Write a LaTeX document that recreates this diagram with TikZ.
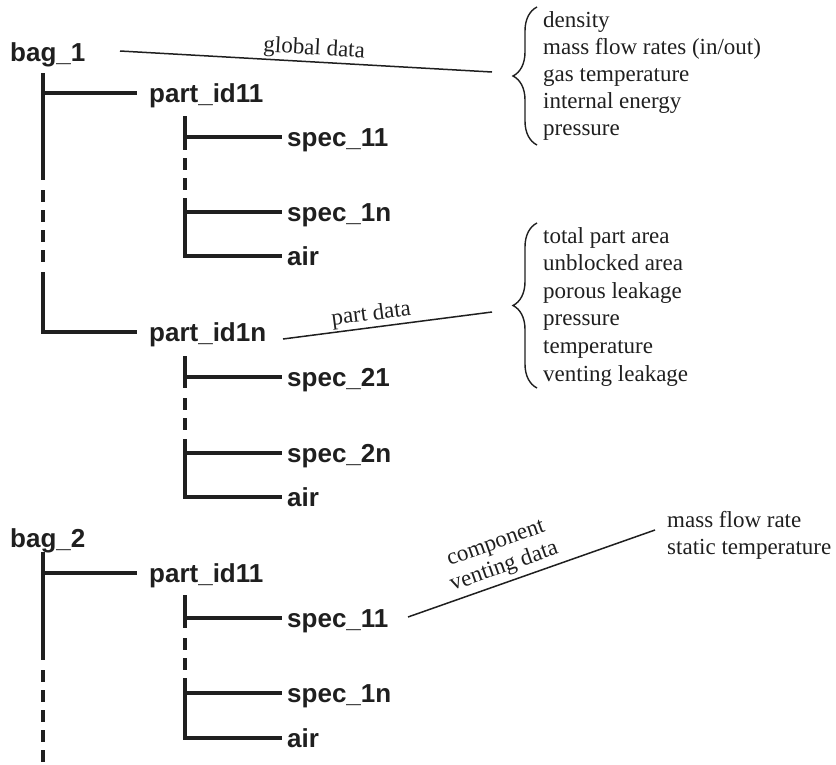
\documentclass[tikz,border=0pt]{standalone}
\usepackage{fontspec}
\setmainfont{Liberation Serif}
\setsansfont{Liberation Sans}
\usetikzlibrary{decorations.pathreplacing}
\tikzset{
  tree/.style={line width=3.2pt, line cap=butt, line join=miter, draw=black!88},
  dsh/.style={tree, dash pattern=on 12pt off 8pt},
  thinline/.style={line width=1.5pt, draw=black!88},
  bracestyle/.style={line width=1.4pt, draw=black!88, decorate, decoration={brace, amplitude=24pt}},
  bagt/.style={font=\sffamily\bfseries\fontsize{26}{30}\selectfont, text=black!88, inner sep=0pt, anchor=base west},
  partt/.style={font=\sffamily\bfseries\fontsize{26}{30}\selectfont, text=black!88, anchor=west, inner xsep=12pt, inner ysep=0pt, text height=18pt, text depth=0pt},
  spect/.style={font=\sffamily\bfseries\fontsize{26}{30}\selectfont, text=black!88, anchor=west, inner xsep=5pt, inner ysep=0pt, text height=18pt, text depth=0pt},
  item/.style={font=\fontsize{23}{27}\selectfont, text=black!88, inner sep=0pt, anchor=base west},
  lbl/.style={font=\fontsize{23}{25}\selectfont, text=black!88, inner sep=1.5pt}
}
\begin{document}
\begin{tikzpicture}[x=1pt,y=-1pt]
\useasboundingbox (0,0) rectangle (836,764);

% ---- text nodes of the tree
\node[bagt] (b1) at (10,61) {bag\_1};
\node[partt] (p11) at (137,93) {part\_id11};
\node[spect] (s11) at (282,137) {spec\_11};
\node[spect] (s1n) at (282,212) {spec\_1n};
\node[spect] (a1) at (282,256) {air};
\node[partt] (p1n) at (137,332) {part\_id1n};
\node[spect] (s21) at (282,377) {spec\_21};
\node[spect] (s2n) at (282,453) {spec\_2n};
\node[spect] (a2) at (282,497) {air};
\node[bagt] (b2) at (10,547) {bag\_2};
\node[partt] (q11) at (137,573) {part\_id11};
\node[spect] (t11) at (282,618) {spec\_11};
\node[spect] (t1n) at (282,693) {spec\_1n};
\node[spect] (a3) at (282,738) {air};

% ---- bag_1 spine
\coordinate (b1top) at (43,73);
\coordinate (b1m1) at (43,180);
\coordinate (b1m2) at (43,190);
\coordinate (b1m3) at (43,262);
\coordinate (b1m4) at (43,272);
\draw[tree] (b1top) -- (b1m1);
\draw[dsh] (b1m2) -- (b1m3);
\draw[tree] (b1m4) |- (p1n.west);
\draw[tree] (b1top |- p11.west) -- (p11.west);

% ---- part_id11 (bag_1) sub-tree
\coordinate (u1top) at (185,116);
\coordinate (u1a) at (185,150);
\coordinate (u1b) at (185,158);
\coordinate (u1c) at (185,190);
\coordinate (u1d) at (185,198);
\draw[tree] (u1top) -- (u1a);
\draw[dsh] (u1b) -- (u1c);
\draw[tree] (u1d) |- (a1.west);
\draw[tree] (u1top |- s11.west) -- (s11.west);
\draw[tree] (u1top |- s1n.west) -- (s1n.west);

% ---- part_id1n sub-tree
\coordinate (u2top) at (185,356);
\coordinate (u2a) at (185,388);
\coordinate (u2b) at (185,398);
\coordinate (u2c) at (185,430);
\coordinate (u2d) at (185,439);
\draw[tree] (u2top) -- (u2a);
\draw[dsh] (u2b) -- (u2c);
\draw[tree] (u2d) |- (a2.west);
\draw[tree] (u2top |- s21.west) -- (s21.west);
\draw[tree] (u2top |- s2n.west) -- (s2n.west);

% ---- bag_2 spine
\coordinate (b2top) at (43,552);
\coordinate (b2m1) at (43,660);
\coordinate (b2m2) at (43,670);
\coordinate (b2m3) at (43,762);
\draw[tree] (b2top) -- (b2m1);
\draw[dsh] (b2m2) -- (b2m3);
\draw[tree] (b2top |- q11.west) -- (q11.west);

% ---- part_id11 (bag_2) sub-tree
\coordinate (u3top) at (185,595);
\coordinate (u3a) at (185,628);
\coordinate (u3b) at (185,638);
\coordinate (u3c) at (185,670);
\coordinate (u3d) at (185,678);
\draw[tree] (u3top) -- (u3a);
\draw[dsh] (u3b) -- (u3c);
\draw[tree] (u3d) |- (a3.west);
\draw[tree] (u3top |- t11.west) -- (t11.west);
\draw[tree] (u3top |- t1n.west) -- (t1n.west);

% ---- global data
\coordinate (g1) at (120,51);
\coordinate (g2) at (492,72);
\draw[thinline] (g1) -- node[lbl, pos=0.52, sloped, above] {global data} (g2);
\draw[bracestyle] (537,145) -- (537,7);
\node[item] (gi1) at (543,27) {density};
\node[item] (gi2) at (543,54) {mass flow rates (in/out)};
\node[item] (gi3) at (543,81) {gas temperature};
\node[item] (gi4) at (543,108) {internal energy};
\node[item] (gi5) at (543,135) {pressure};

% ---- part data
\coordinate (h1) at (283,339);
\coordinate (h2) at (492,312);
\draw[thinline] (h1) -- node[lbl, pos=0.43, sloped, above] {part data} (h2);
\draw[bracestyle] (537,388) -- (537,223);
\node[item] (pi1) at (543,243) {total part area};
\node[item] (pi2) at (543,270.6) {unblocked area};
\node[item] (pi3) at (543,298.2) {porous leakage};
\node[item] (pi4) at (543,325.8) {pressure};
\node[item] (pi5) at (543,353.4) {temperature};
\node[item] (pi6) at (543,381) {venting leakage};

% ---- component venting data
\coordinate (c1) at (408,617);
\coordinate (c2) at (655,530);
\draw[thinline] (c1) -- node[lbl, pos=0.41, sloped, above, align=center, inner sep=4pt] {component\\venting data} (c2);
\node[item] (ci1) at (667,527) {mass flow rate};
\node[item] (ci2) at (667,554) {static temperature};
\end{tikzpicture}
\end{document}
